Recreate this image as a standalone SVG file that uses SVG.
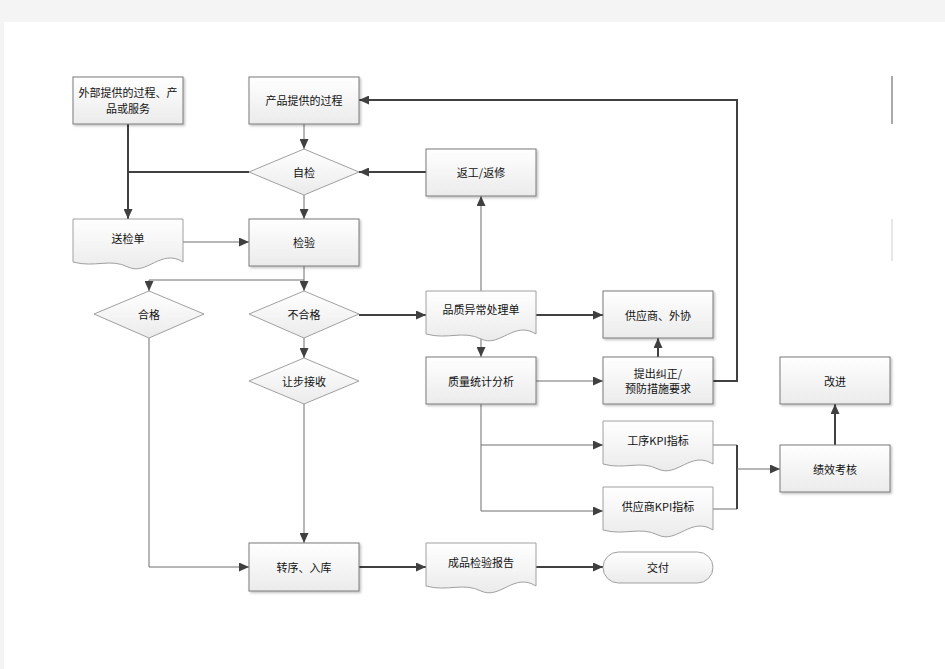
<svg xmlns="http://www.w3.org/2000/svg" width="945" height="669" viewBox="0 0 945 669">
<defs>
<linearGradient id="g" x1="0" y1="0" x2="0" y2="1">
<stop offset="0" stop-color="#ffffff"/>
<stop offset="1" stop-color="#ebebeb"/>
</linearGradient>
<filter id="sh" x="-10%" y="-10%" width="130%" height="130%">
<feDropShadow dx="1.5" dy="1.5" stdDeviation="0.8" flood-color="#000" flood-opacity="0.25"/>
</filter>
<marker id="a" markerUnits="userSpaceOnUse" markerWidth="10" markerHeight="9" refX="10" refY="4.5" orient="auto">
<path d="M0,0 L10,4.5 L0,9 z" fill="#404040"/>
</marker>
</defs>
<style>
.n{fill:url(#g);stroke:#7a7a7a;stroke-width:1;filter:url(#sh)}
.d{fill:url(#g);stroke:#a0a0a0;stroke-width:1}
.t{font-family:"Noto Sans CJK SC","Microsoft YaHei",sans-serif;font-size:11px;fill:#111;text-anchor:middle;dominant-baseline:central}
.k{fill:none;stroke:#404040;stroke-width:2}
.m{fill:none;stroke:#6e6e6e;stroke-width:1}
.l{fill:none;stroke:#b5b5b5;stroke-width:2}
</style>
<rect x="0" y="0" width="945" height="669" fill="#f4f4f4"/>
<rect x="4" y="22" width="941" height="647" fill="#ffffff"/>
<line x1="892" y1="76" x2="892" y2="124" stroke="#707070" stroke-width="1.2"/>
<line x1="892" y1="219" x2="892" y2="261" stroke="#d8d8d8" stroke-width="1.2"/>

<g id="connectors">
<path class="k" d="M128,124 V219" marker-end="url(#a)"/>
<path class="k" d="M249,172 H128"/>
<path class="m" d="M304,124 V149" marker-end="url(#a)"/>
<path class="m" d="M304,195 V219" marker-end="url(#a)"/>
<path class="k" d="M426,172 H359" marker-end="url(#a)"/>
<path class="m" d="M183,242 H249" marker-end="url(#a)"/>
<path class="m" d="M304,266 V280 H149 V291" marker-end="url(#a)"/>
<path class="m" d="M304,280 V291" marker-end="url(#a)"/>
<path class="k" d="M359,315 H426" marker-end="url(#a)"/>
<path class="m" d="M304,338 V358" marker-end="url(#a)"/>
<path class="m" d="M304,404 V543" marker-end="url(#a)"/>
<path class="m" d="M149,338 V567 H249" marker-end="url(#a)"/>
<path class="l" d="M481,291 V196" marker-end="url(#a)"/>
<path class="k" d="M536,315 H603" marker-end="url(#a)"/>
<path class="l" d="M481,335 V357" marker-end="url(#a)"/>
<path class="m" d="M536,381 H603" marker-end="url(#a)"/>
<path class="k" d="M658,357 V338" marker-end="url(#a)"/>
<path class="k" d="M713,381 H737 V100 H359" marker-end="url(#a)"/>
<path class="m" d="M481,404 V511 H603" marker-end="url(#a)"/>
<path class="m" d="M481,445 H603" marker-end="url(#a)"/>
<path class="m" d="M713,445 H737"/>
<path class="m" d="M713,509 H737"/>
<path class="k" d="M737,445 V509"/>
<path class="m" d="M737,469 H780" marker-end="url(#a)"/>
<path class="k" d="M835,445 V404" marker-end="url(#a)"/>
<path class="k" d="M359,567 H426" marker-end="url(#a)"/>
<path class="k" d="M536,567 H603" marker-end="url(#a)"/>
</g>

<g id="n-external">
<rect class="n" x="73" y="77" width="110" height="47"/>
<text class="t" x="128" y="92">外部提供的过程、产</text>
<text class="t" x="128" y="108">品或服务</text>
</g>
<g id="n-product">
<rect class="n" x="249" y="77" width="110" height="47"/>
<text class="t" x="304" y="100">产品提供的过程</text>
</g>
<g id="n-selfcheck">
<polygon class="d" points="304,149 359,172 304,195 249,172"/>
<text class="t" x="304" y="172">自检</text>
</g>
<g id="n-rework">
<rect class="n" x="426" y="149" width="110" height="47"/>
<text class="t" x="481" y="172">返工/返修</text>
</g>
<g id="n-sendslip">
<path class="d" d="M73,219 H183 V262 C161,248 147,276 128,267 C110,258 95,268 73,262 Z"/>
<text class="t" x="128" y="238">送检单</text>
</g>
<g id="n-inspect">
<rect class="n" x="249" y="219" width="110" height="47"/>
<text class="t" x="304" y="242">检验</text>
</g>
<g id="n-pass">
<polygon class="d" points="149,291 204,314 149,338 94,314"/>
<text class="t" x="149" y="314">合格</text>
</g>
<g id="n-fail">
<polygon class="d" points="304,291 359,314 304,338 249,314"/>
<text class="t" x="304" y="314">不合格</text>
</g>
<g id="n-concession">
<polygon class="d" points="304,358 359,381 304,404 249,381"/>
<text class="t" x="304" y="381">让步接收</text>
</g>
<g id="n-abnormal">
<path class="d" d="M426,291 H536 V334 C514,320 500,348 481,339 C463,330 448,340 426,334 Z"/>
<text class="t" x="481" y="309">品质异常处理单</text>
</g>
<g id="n-supplier">
<rect class="n" x="603" y="291" width="110" height="47"/>
<text class="t" x="658" y="315">供应商、外协</text>
</g>
<g id="n-stats">
<rect class="n" x="426" y="357" width="110" height="47"/>
<text class="t" x="481" y="381">质量统计分析</text>
</g>
<g id="n-corrective">
<rect class="n" x="603" y="357" width="110" height="47"/>
<text class="t" x="658" y="373">提出纠正/</text>
<text class="t" x="658" y="388">预防措施要求</text>
</g>
<g id="n-improve">
<rect class="n" x="780" y="357" width="110" height="47"/>
<text class="t" x="835" y="381">改进</text>
</g>
<g id="n-processkpi">
<path class="d" d="M603,421 H713 V464 C691,450 677,478 658,469 C640,460 625,470 603,464 Z"/>
<text class="t" x="658" y="440">工序KPI指标</text>
</g>
<g id="n-perf">
<rect class="n" x="780" y="445" width="110" height="47"/>
<text class="t" x="835" y="469">绩效考核</text>
</g>
<g id="n-supplierkpi">
<path class="d" d="M603,487 H713 V530 C691,516 677,544 658,535 C640,526 625,536 603,530 Z"/>
<text class="t" x="658" y="506">供应商KPI指标</text>
</g>
<g id="n-transfer">
<rect class="n" x="249" y="543" width="110" height="48"/>
<text class="t" x="304" y="567">转序、入库</text>
</g>
<g id="n-report">
<path class="d" d="M426,543 H536 V586 C514,572 500,600 481,591 C463,582 448,592 426,586 Z"/>
<text class="t" x="481" y="562">成品检验报告</text>
</g>
<g id="n-deliver">
<rect class="d" x="603" y="552" width="110" height="31" rx="15.5"/>
<text class="t" x="658" y="567">交付</text>
</g>
</svg>
